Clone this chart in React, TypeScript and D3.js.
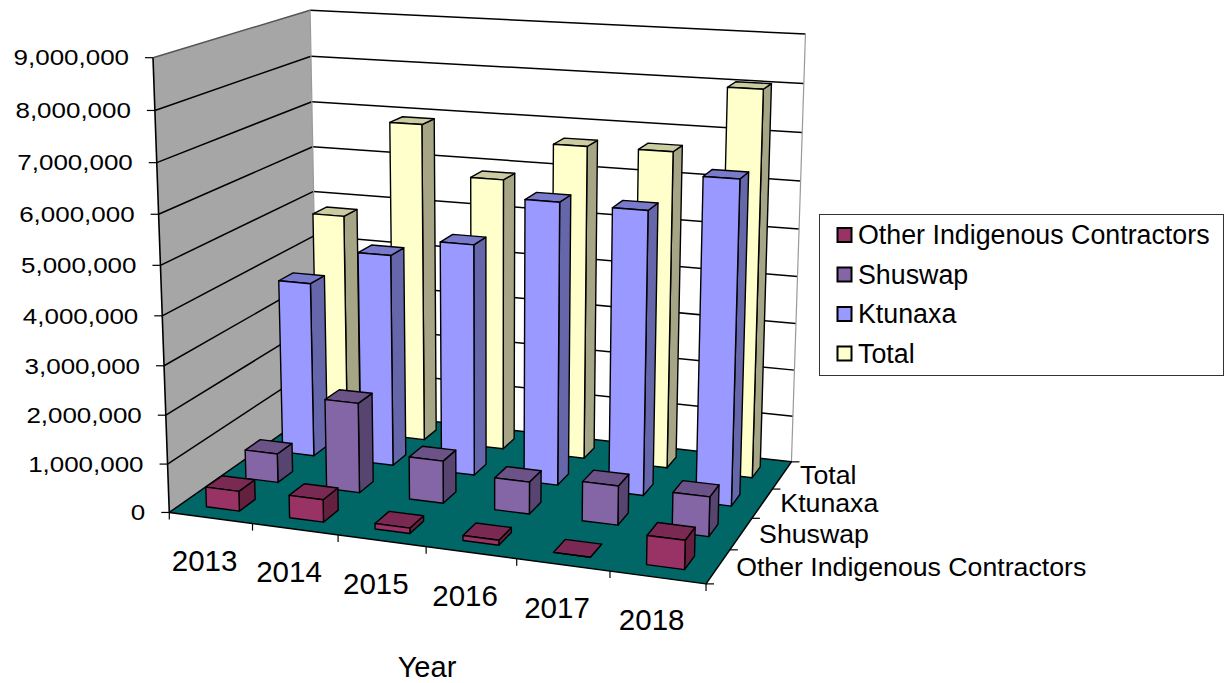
import React, { useMemo } from 'react';
import * as d3 from 'd3';

// ---------------- data ----------------
const CATEGORIES = ['2013', '2014', '2015', '2016', '2017', '2018'];
// series from front row to back row
const SERIES = ['Other Indigenous Contractors', 'Shuswap', 'Ktunaxa', 'Total'];
const OTHER = [410000, 460000, 110000, 100000, 0, 570000];
const SHUSWAP = [610000, 1880000, 880000, 660000, 800000, 800000];
const KTUNAXA = [3750000, 4500000, 4870000, 5880000, 5850000, 6600000];
const TOTAL = [4800000, 6900000, 5850000, 6670000, 6680000, 8050000];
const SERIES_VALUES = [OTHER, SHUSWAP, KTUNAXA, TOTAL];
const Y_TICKS = [0, 1000000, 2000000, 3000000, 4000000, 5000000, 6000000, 7000000, 8000000, 9000000];
const Y_MAX = 9000000;
const X_TITLE = 'Year';

// ---------------- styles ----------------
const COLORS = [
  { front: '#993366', top: '#7a2952', side: '#66203f' },
  { front: '#8466a6', top: '#6b5287', side: '#574470' },
  { front: '#9999ff', top: '#7a7acc', side: '#6666aa' },
  { front: '#ffffcc', top: '#cccca3', side: '#a6a686' },
];
const FONT = '"Liberation Sans", Arial, Helvetica, sans-serif';

// Calibration of the perspective frame: [x, valueFrac, depth] -> [px, py]
const FRAME_ANCHORS: number[][] = [
  [0, 1, 1, 310.7, 9.3],
  [1, 1, 1, 805, 34],
  [0, 1, 0, 152.7, 58],
  [0, 0, 0, 170, 513],
  [1, 0, 0, 704, 584],
  [1, 0, 1, 790, 462],
  [0, 5 / 9, 1, 312.8, 192.3],
  [1, 6 / 9, 1, 801, 181.7],
  [0, 1 / 9, 0, 167.5, 463],
  [0, 5 / 9, 0, 161, 265],
  [1 / 6, 0, 0, 252.3, 524],
  [0.5, 0, 0, 425, 547],
  [1, 0, 0.5, 753.3, 517.7],
  [1, 0, 0.25, 731.7, 550],
  [1, 0, 0.75, 773.3, 488.3],
];

function solveLinear(A: number[][], b: number[]): number[] {
  const n = b.length;
  const M = A.map((row, i) => [...row, b[i]]);
  for (let c = 0; c < n; c++) {
    let piv = c;
    for (let r = c + 1; r < n; r++) if (Math.abs(M[r][c]) > Math.abs(M[piv][c])) piv = r;
    [M[c], M[piv]] = [M[piv], M[c]];
    for (let r = 0; r < n; r++) {
      if (r === c) continue;
      const f = M[r][c] / M[c][c];
      for (let k = c; k <= n; k++) M[r][k] -= f * M[c][k];
    }
  }
  return M.map((row, i) => row[n] / row[i]);
}

function fitCamera(anchors: number[][]) {
  const N = 11;
  const AtA = Array.from({ length: N }, () => new Array(N).fill(0));
  const Atb = new Array(N).fill(0);
  const add = (r: number[], t: number) => {
    for (let i = 0; i < N; i++) {
      Atb[i] += r[i] * t;
      for (let j = 0; j < N; j++) AtA[i][j] += r[i] * r[j];
    }
  };
  anchors.forEach(([X, Y, Z, px, py]) => {
    const u = (px - 500) / 300;
    const v = (py - 300) / 300;
    add([X, Y, Z, 1, 0, 0, 0, 0, -u * X, -u * Y, -u * Z], u);
    add([0, 0, 0, 0, X, Y, Z, 1, -v * X, -v * Y, -v * Z], v);
  });
  const p = solveLinear(AtA, Atb);
  return (x: number, y: number, z: number): [number, number] => {
    const w = p[8] * x + p[9] * y + p[10] * z + 1;
    const u = (p[0] * x + p[1] * y + p[2] * z + p[3]) / w;
    const v = (p[4] * x + p[5] * y + p[6] * z + p[7]) / w;
    return [u * 300 + 500, v * 300 + 300];
  };
}

const pts = (arr: [number, number][]) => arr.map((p) => `${p[0].toFixed(2)},${p[1].toFixed(2)}`).join(' ');

export default function App() {
  const proj = useMemo(() => fitCamera(FRAME_ANCHORS), []);
  const xBand = d3.scaleBand<string>().domain(CATEGORIES).range([0, 1]).paddingInner(0.6).paddingOuter(0.3);
  const zBand = d3.scaleBand<string>().domain(SERIES).range([0, 1]).paddingInner(0.6).paddingOuter(0.3);
  const yScale = d3.scaleLinear().domain([0, Y_MAX]).range([0, 1]);
  const P = (x: number, v: number, z: number) => proj(x, yScale(v), z);
  const fmt = d3.format(',');

  const leftWall = pts([P(0, 0, 0), P(0, Y_MAX, 0), P(0, Y_MAX, 1), P(0, 0, 1)]);
  const backWall = pts([P(0, 0, 1), P(1, 0, 1), P(1, Y_MAX, 1), P(0, Y_MAX, 1)]);
  const floor = pts([P(0, 0, 0), P(1, 0, 0), P(1, 0, 1), P(0, 0, 1)]);

  const bars: React.ReactNode[] = [];
  for (let j = SERIES.length - 1; j >= 0; j--) {
    const s = SERIES[j];
    const z0 = zBand(s)!;
    const z1 = z0 + zBand.bandwidth();
    CATEGORIES.forEach((c, i) => {
      const v = SERIES_VALUES[j][i];
      const x0 = xBand(c)!;
      const x1 = x0 + xBand.bandwidth();
      const col = COLORS[j];
      const front = pts([P(x0, 0, z0), P(x1, 0, z0), P(x1, v, z0), P(x0, v, z0)]);
      const side = pts([P(x1, 0, z0), P(x1, 0, z1), P(x1, v, z1), P(x1, v, z0)]);
      const top = pts([P(x0, v, z0), P(x1, v, z0), P(x1, v, z1), P(x0, v, z1)]);
      bars.push(
        <g key={`${s}-${c}`} stroke="#000" strokeWidth={1.4} strokeLinejoin="round">
          <polygon points={side} fill={col.side} />
          <polygon points={top} fill={col.top} />
          <polygon points={front} fill={col.front} />
        </g>
      );
    });
  }

  const [lx0, ly0] = P(0, 0, 0);
  return (
    <svg width={1224} height={683} style={{ position: 'absolute', left: 0, top: 0, display: 'block', background: '#fff' }} fontFamily={FONT}>
      {/* walls and floor */}
      <polygon points={leftWall} fill="#a6a6a6" stroke="none" />
      <polygon points={backWall} fill="#ffffff" stroke="none" />
      {Y_TICKS.filter((t) => t > 0).map((t) => {
        const a = P(0, t, 0), b = P(0, t, 1), c = P(1, t, 1);
        return (
          <g key={`g${t}`}>
            <line x1={a[0]} y1={a[1]} x2={b[0]} y2={b[1]} stroke={t === Y_MAX ? '#555' : '#000'} strokeWidth={1.5} />
            <line x1={b[0]} y1={b[1]} x2={c[0]} y2={c[1]} stroke="#000" strokeWidth={1.5} />
          </g>
        );
      })}
      {(() => {
        const a = P(0, 0, 1), b = P(0, Y_MAX, 1), c = P(1, 0, 1), d = P(1, Y_MAX, 1);
        return (
          <g stroke="#999" strokeWidth={1.2}>
            <line x1={a[0]} y1={a[1]} x2={b[0]} y2={b[1]} />
            <line x1={c[0]} y1={c[1]} x2={d[0]} y2={d[1]} />
          </g>
        );
      })()}
      <polygon points={floor} fill="#006666" stroke="#000" strokeWidth={1.5} strokeLinejoin="round" />
      {/* value axis line */}
      {(() => {
        const t = P(0, Y_MAX, 0);
        return <line x1={lx0} y1={ly0} x2={t[0]} y2={t[1]} stroke="#000" strokeWidth={1.6} />;
      })()}
      {/* ticks */}
      {Y_TICKS.map((t) => {
        const [x, y] = P(0, t, 0);
        return <line key={`yt${t}`} x1={x - 8} y1={y} x2={x} y2={y} stroke="#000" strokeWidth={1.2} />;
      })}
      {d3.range(CATEGORIES.length + 1).map((k) => {
        const [x, y] = P(k / CATEGORIES.length, 0, 0);
        return <line key={`xt${k}`} x1={x} y1={y} x2={x} y2={y + 7} stroke="#000" strokeWidth={1.2} />;
      })}
      {d3.range(SERIES.length + 1).map((k) => {
        const [x, y] = P(1, 0, k / SERIES.length);
        return <line key={`zt${k}`} x1={x} y1={y} x2={x + 8} y2={y} stroke="#000" strokeWidth={1.2} />;
      })}
      {/* bars */}
      {bars}
      {/* labels */}
      {Y_TICKS.map((t) => {
        const [x, y] = P(0, t, 0);
        return (
          <text key={`yl${t}`} transform={`translate(${x - 24},${y}) scale(1.18,1)`} textAnchor="end" dominantBaseline="central" fontSize={22} fill="#000">
            {fmt(t)}
          </text>
        );
      })}
      {CATEGORIES.map((c) => {
        const [x, y] = P(xBand(c)! + xBand.bandwidth() / 2, 0, 0);
        return (
          <text key={`xl${c}`} x={x - 6} y={y + 53} textAnchor="middle" fontSize={29.5} fill="#000">
            {c}
          </text>
        );
      })}
      {SERIES.map((s) => {
        const [x, y] = P(1, 0, zBand(s)! + zBand.bandwidth() / 2);
        return (
          <text key={`zl${s}`} x={x + 18} y={y} dominantBaseline="central" fontSize={26.7} fill="#000">
            {s}
          </text>
        );
      })}
      <text x={427} y={677} textAnchor="middle" fontSize={29} fill="#000">
        {X_TITLE}
      </text>
      {/* legend */}
      <rect x={819.5} y={214.5} width={404} height={161} fill="#fff" stroke="#333" strokeWidth={1} />
      {SERIES.map((s, i) => {
        const cy = 235 + i * 39.5;
        return (
          <g key={`lg${s}`}>
            <rect x={837.5} y={cy - 7} width={14} height={14} fill={COLORS[i].front} stroke="#000" strokeWidth={2} />
            <text x={858} y={cy} dominantBaseline="central" fontSize={26.8} fill="#000">
              {s}
            </text>
          </g>
        );
      })}
    </svg>
  );
}
